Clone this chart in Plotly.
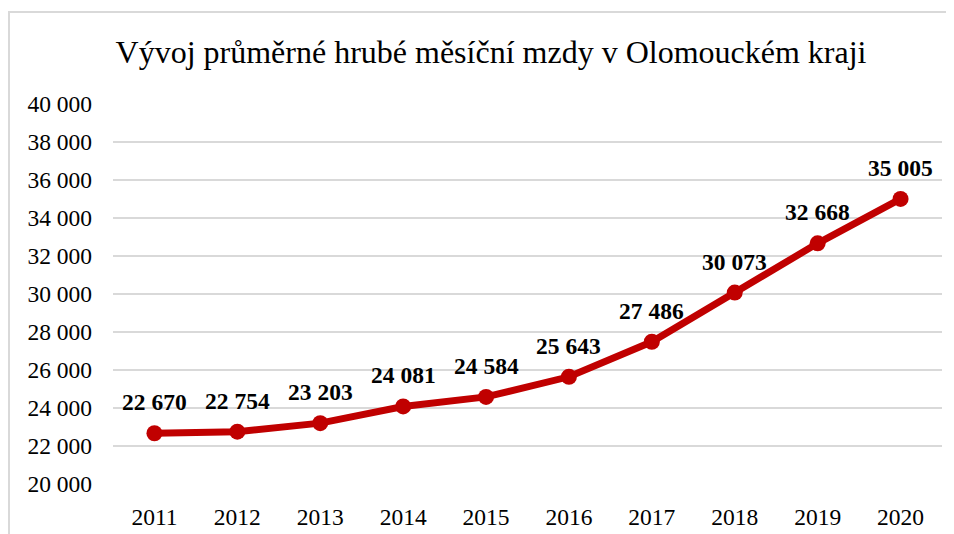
import plotly.graph_objects as go

years = [2011, 2012, 2013, 2014, 2015, 2016, 2017, 2018, 2019, 2020]
wages = [22670, 22754, 23203, 24081, 24584, 25643, 27486, 30073, 32668, 35005]
title_text = "Vývoj průměrné hrubé měsíční mzdy v Olomouckém kraji"
y_ticks = list(range(20000, 40001, 2000))

RED = "#C00000"
FONT = "Liberation Serif, Times New Roman, serif"

# page has an 8px body margin; figure drawn offset accordingly
W, H = 946, 526
ML, MR, MT, MB = 105, 12, 96, 50
pw, ph = W - ML - MR, H - MT - MB

def fmt(v):
    return f"{v:,}".replace(",", " ")

fig = go.Figure()
fig.add_trace(go.Scatter(
    x=years, y=wages, mode="lines+markers",
    line=dict(color=RED, width=7),
    marker=dict(color=RED, size=16),
    hoverinfo="skip", showlegend=False,
))

for yr, v in zip(years, wages):
    fig.add_annotation(x=yr, y=v, xref="x", yref="y", text=f"<b>{fmt(v)}</b>",
                       showarrow=False, yshift=31,
                       font=dict(family=FONT, size=23.5, color="black"))

# chart border
fig.add_shape(type="rect", xref="paper", yref="paper",
              x0=(1 - ML) / pw, x1=(W + 20 - ML) / pw,
              y0=(H - MB - (H + 20)) / ph, y1=(H - MB - 4) / ph,
              line=dict(color="#d9d9d9", width=2), layer="below")

fig.update_layout(
    width=W, height=H,
    margin=dict(l=ML, r=MR, t=MT, b=MB),
    paper_bgcolor="white", plot_bgcolor="white",
    separators=", ",
    font=dict(family=FONT, size=23.5, color="black"),
    title=dict(text=title_text, x=483 / W, xanchor="center", xref="container",
               y=1 - 44 / H, yanchor="middle", yref="container",
               font=dict(family=FONT, size=32, color="black")),
    xaxis=dict(range=[2010.5, 2020.5], tickvals=years, ticktext=[str(y) for y in years],
               showgrid=False, zeroline=False, showline=False, ticks="",
               ticklabelstandoff=16, automargin=False,
               tickfont=dict(family=FONT, size=23.5, color="black")),
    yaxis=dict(range=[20000, 40000], tickvals=y_ticks,
               ticktext=[fmt(t) for t in y_ticks],
               showgrid=True, gridcolor="#d9d9d9", gridwidth=1.5,
               zeroline=False, showline=False, ticks="", ticklabelstandoff=20,
               automargin=False,
               tickfont=dict(family=FONT, size=23.5, color="black")),
)

fig.write_html("out.html")
